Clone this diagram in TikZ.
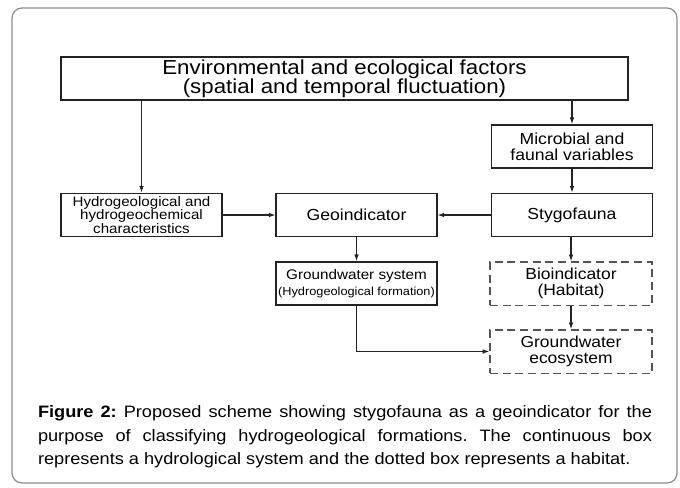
\documentclass[tikz,border=0pt]{standalone}
\usepackage{fontspec}
\setmainfont{Liberation Sans}[FakeStretch=1.1]
\usepackage{tikz}
\usetikzlibrary{positioning, calc, arrows.meta}
\frenchspacing
\definecolor{frameGray}{RGB}{140, 140, 140}
\definecolor{lineGray}{RGB}{35, 35, 35}
\definecolor{dashGray}{RGB}{85, 85, 85}
\tikzset{
  envbox/.style={rectangle, draw=lineGray, line width=1.1pt,
                 minimum width=425.25pt, minimum height=32.5pt,
                 inner sep=0pt, align=center, font=\fontsize{15.2}{14.5}\selectfont},
  sysbox/.style={rectangle, draw=lineGray, line width=1.1pt,
                 minimum width=120.5pt, minimum height=32.5pt,
                 inner sep=0pt, align=center, font=\fontsize{12}{12}\selectfont},
  habbox/.style={rectangle, draw=dashGray, line width=1pt, dash pattern=on 6pt off 3.5pt,
                 minimum width=121.5pt, minimum height=32.5pt,
                 inner sep=0pt, align=center, font=\fontsize{11.9}{12}\selectfont},
  flow/.style={draw=lineGray, line width=0.8pt, -{Latex[length=5pt,width=3.5pt]}},
}

\begin{document}
\begin{tikzpicture}[x=0.75pt, y=-0.75pt]
    \useasboundingbox (0,0) rectangle (680,487);
    \fill[white] (0,0) rectangle (680,487);
    \draw[frameGray, line width=0.9pt, rounded corners=7.5pt] (12,8) rectangle (677,483);

    \node[envbox] (env) at (344.5,78.5) {
      Environmental and ecological factors\\
      (spatial and temporal fluctuation)
    };

    \node[sysbox] (micro) at (572,146.5) {Microbial and\\faunal variables};

    \node[sysbox, font=\fontsize{10.3}{10.2}\selectfont] (hydro) at (141.5,215) {
      Hydrogeological and\\
      hydrogeochemical\\
      characteristics
    };
    \node[sysbox] (geo) at (356.5,215) {Geoindicator};
    \node[sysbox] (stygo) at (572,215) {Stygofauna};

    \node[sysbox, font=\fontsize{10.4}{11.5}\selectfont] (gws) at (356.5,283.5) {
      Groundwater system\\
      {\fontsize{8.7}{10}\selectfont (Hydrogeological formation)}
    };
    \node[habbox] (bio) at (571,283.5) {Bioindicator\\(Habitat)};
    \node[habbox] (eco) at (571,351.5) {Groundwater\\ecosystem};

    % connectors
    \draw[flow] (env.south -| hydro.north) -- (hydro.north);
    \draw[flow] (env.south -| micro.north) -- (micro.north);
    \draw[flow] (micro) -- (stygo);
    \draw[flow] (hydro) -- (geo);
    \draw[flow] (stygo) -- (geo);
    \draw[flow] (geo) -- (gws);
    \draw[flow] (stygo.south -| bio.north) -- (bio.north);
    \draw[flow] (bio) -- (eco);
    \draw[flow] (gws.south) |- (eco.west);

    \node[text width=460.5pt, align=justify, inner sep=0pt,
          font=\fontsize{12.4}{17.5}\selectfont] (caption) at (345,437) {
      \textbf{Figure 2:} Proposed scheme showing stygofauna as a geoindicator for the\linebreak
      purpose of classifying hydrogeological formations. The continuous box\linebreak
      represents a hydrological system and the dotted box represents a habitat.
    };
  \end{tikzpicture}
\end{document}
